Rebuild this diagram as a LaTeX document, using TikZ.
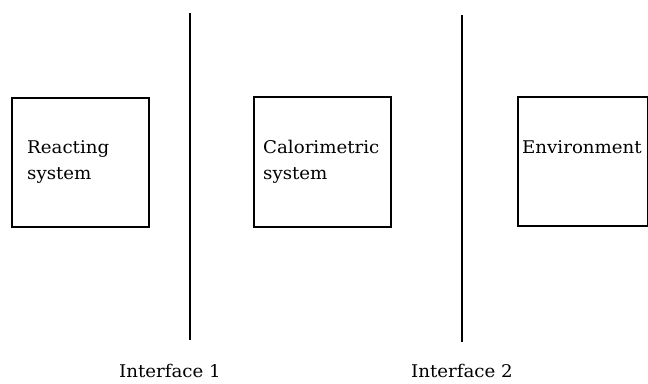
\documentclass[tikz,border=0pt]{standalone}
\usepackage{fontspec}
\newfontfamily\labelfont[FakeStretch=1.04]{DejaVu Serif}
\begin{document}
\begin{tikzpicture}[x=1pt,y=-1pt,
  sysbox/.style={draw,line width=1.5pt,inner sep=0pt,anchor=north west},
  wall/.style={line width=1.4pt},
  txt/.style={font=\labelfont\fontsize{17.5}{26}\selectfont,inner sep=0pt,anchor=base west,align=left},
  caption/.style={font=\labelfont\fontsize{17.5}{26}\selectfont,inner sep=0pt,anchor=base}]
  \useasboundingbox (0,0) rectangle (648,383);
  % the three systems
  \node[sysbox,minimum width=137pt,minimum height=129pt] (react) at (11,97) {};
  \node[sysbox,minimum width=137pt,minimum height=130pt] (calor) at (253,96) {};
  \node[sysbox,minimum width=130pt,minimum height=129pt] (envir) at (517,96) {};
  % two-line labels: the base anchor sits on the last line
  \node[txt] (reacttxt) at (27,179) {Reacting\\system};
  \node[txt] (calortxt) at (263,179) {Calorimetric\\system};
  \node[txt] (envirtxt) at (522,153) {Environment};
  % interfaces
  \coordinate (w1top) at (190,13);
  \coordinate (w1bot) at (190,340);
  \coordinate (w2top) at (462,15);
  \coordinate (w2bot) at (462,342);
  \draw[wall] (w1top) -- (w1bot);
  \draw[wall] (w2top) -- (w2bot);
  \node[caption] (if1) at (170,377) {Interface 1};
  \node[caption] (if2) at (462,377) {Interface 2};
\end{tikzpicture}
\end{document}
